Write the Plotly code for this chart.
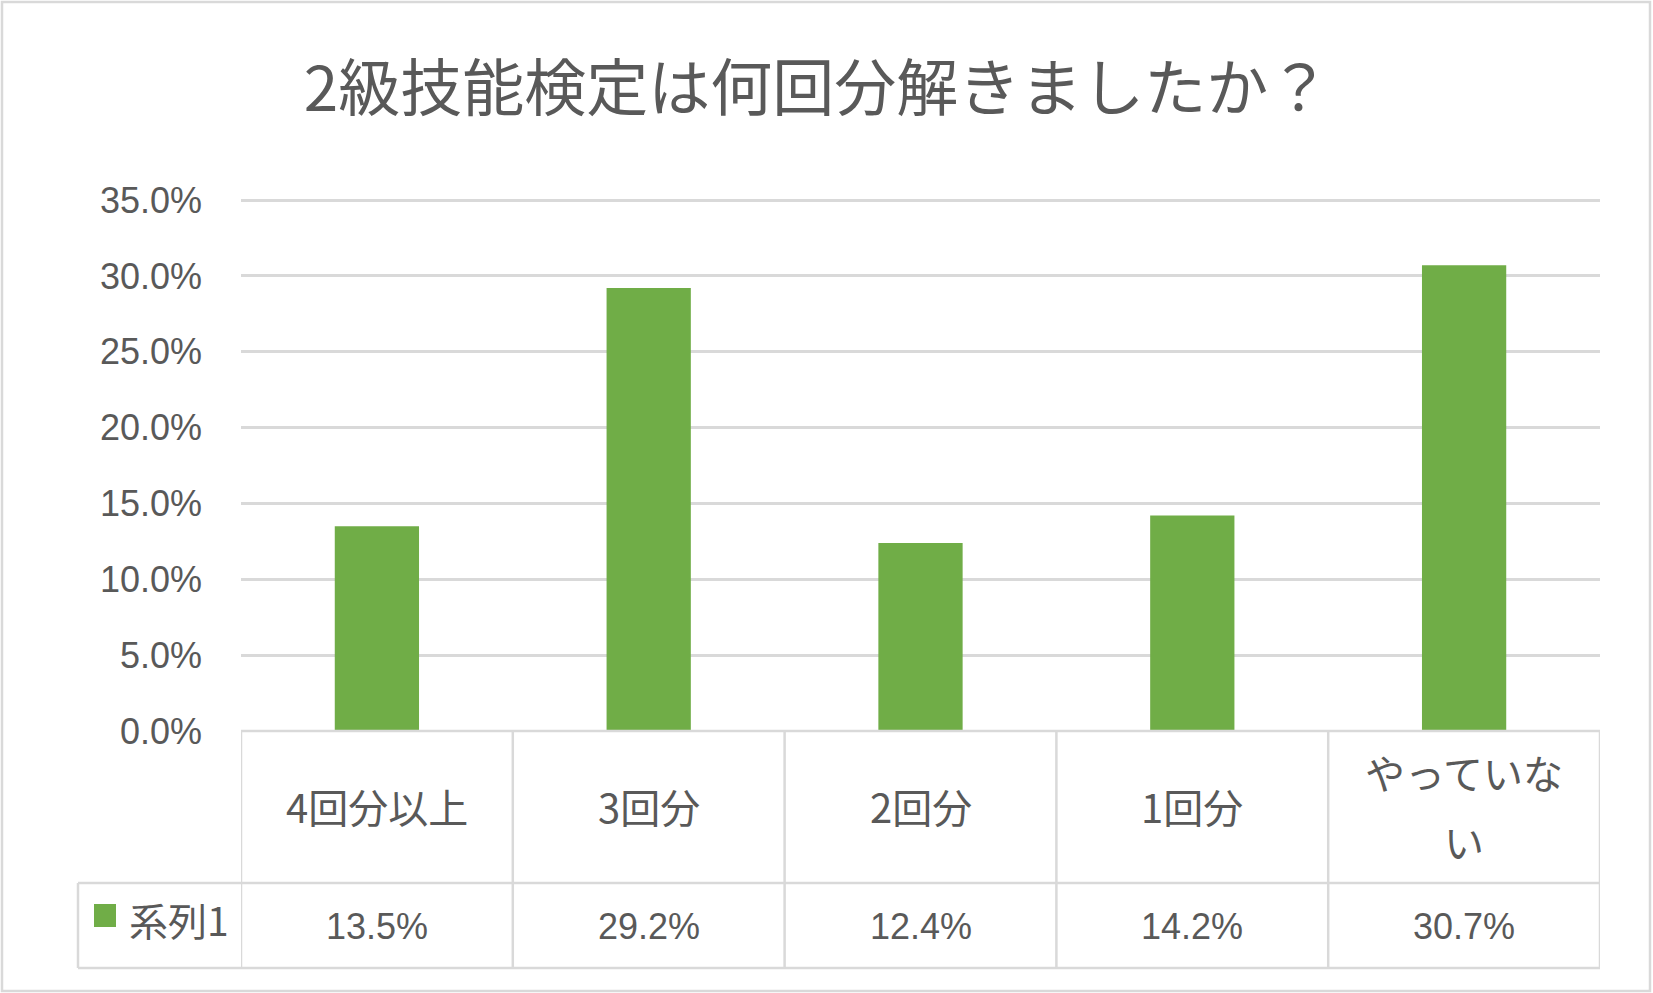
import plotly.graph_objects as go

# Chart data
title = "2級技能検定は何回分解きましたか？"
categories = ["4回分以上", "3回分", "2回分", "1回分", "やっていない"]
values = [0.135, 0.292, 0.124, 0.142, 0.307]
series_name = "系列1"

GREEN = "#70AD47"
GRID = "#D9D9D9"
TEXT = "#595959"
CJK = "Noto Sans CJK JP"
LATIN = "Liberation Sans, Arial"

# plot area in pixels (1653 x 993 page)
L, R, T, B = 241, 1600, 199, 731
W, H = R - L, B - T


def px(x):
    return (x - L) / W


def py(y):
    return (B - y) / H


def wrap(s, n=5):
    return [s[i:i + n] for i in range(0, len(s), n)]


fig = go.Figure()
fig.add_trace(go.Bar(
    x=list(range(len(categories))), y=values, width=0.31,
    marker=dict(color=GREEN, line=dict(width=0)),
    name=series_name, hoverinfo="y",
))

########################################################
# Data table below the plot
########################################################
shapes = []
line = dict(color=GRID, width=2.5)
# horizontal rules
shapes.append(dict(type="line", xref="paper", yref="paper",
                   x0=px(L), x1=px(R), y0=py(731), y1=py(731), line=line))
for yy in (883, 968):
    shapes.append(dict(type="line", xref="paper", yref="paper",
                       x0=px(78), x1=px(R), y0=py(yy), y1=py(yy), line=line))
# vertical rules between columns
for i in range(len(categories) + 1):
    shapes.append(dict(type="line", xref="x", yref="paper",
                       x0=i - 0.5, x1=i - 0.5, y0=py(731), y1=py(968), line=line))
shapes.append(dict(type="line", xref="paper", yref="paper",
                   x0=px(78), x1=px(78), y0=py(883), y1=py(968), line=line))
# legend key
shapes.append(dict(type="rect", xref="paper", yref="paper",
                   x0=px(94), x1=px(116), y0=py(904), y1=py(927),
                   fillcolor=GREEN, line=dict(width=0)))
# outer chart border
shapes.append(dict(type="rect", xref="paper", yref="paper",
                   x0=px(2), x1=px(1650), y0=py(2), y1=py(991),
                   line=dict(color=GRID, width=2.5), layer="below"))

annotations = []
for i, (cat, v) in enumerate(zip(categories, values)):
    lines = wrap(cat)
    for k, part in enumerate(lines):
        yc = 806 + (k - (len(lines) - 1) / 2) * 69
        annotations.append(dict(
            x=i, xref="x", y=py(yc), yref="paper", text=part, showarrow=False,
            xanchor="center", yanchor="middle",
            font=dict(family=CJK, size=40, color=TEXT)))
    annotations.append(dict(
        x=i, xref="x", y=py(926), yref="paper", text=f"{v * 100:.1f}%",
        showarrow=False, xanchor="center", yanchor="middle",
        font=dict(family=LATIN, size=36, color=TEXT)))
annotations.append(dict(
    x=px(127), xref="paper", y=py(919), yref="paper", text=series_name,
    showarrow=False, xanchor="left", yanchor="middle",
    font=dict(family=CJK, size=39, color=TEXT)))

fig.update_layout(
    width=1653, height=993,
    margin=dict(l=L, r=1653 - R, t=T, b=993 - B, pad=0),
    paper_bgcolor="white", plot_bgcolor="white",
    showlegend=False,
    title=dict(text=title, x=817 / 1653, xref="container", xanchor="center",
               y=1 - 89 / 993, yref="container", yanchor="middle",
               font=dict(family=CJK, size=62, color=TEXT)),
    xaxis=dict(range=[-0.5, len(categories) - 0.5], showticklabels=False,
               showgrid=False, zeroline=False, showline=False, fixedrange=True),
    # top slightly above 35% so the 35% gridline is drawn
    yaxis=dict(range=[0, 0.3507], dtick=0.05, tick0=0, tickformat=".1%",
               showgrid=True, gridcolor=GRID, gridwidth=2.5,
               zeroline=False, showline=False, ticks="",
               ticklabelstandoff=38,
               tickfont=dict(family=LATIN, size=36, color=TEXT)),
    shapes=shapes,
    annotations=annotations,
    bargap=0.69,
)

fig.write_html("out.html", config={"displayModeBar": False},
               post_script="document.body.style.margin='0px';")
